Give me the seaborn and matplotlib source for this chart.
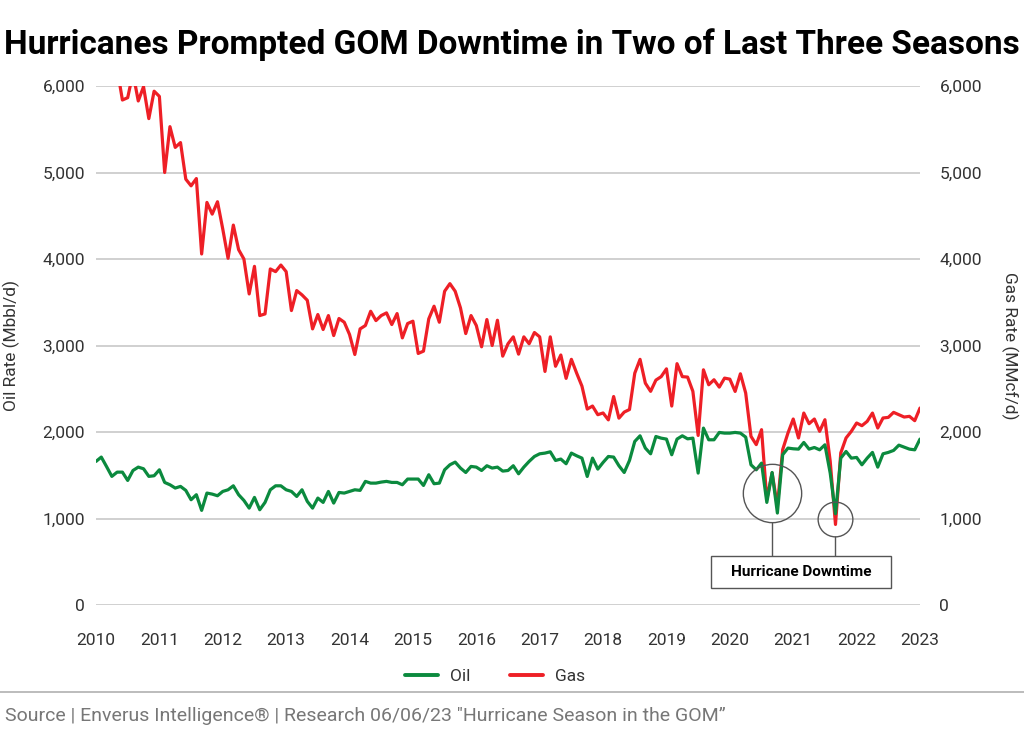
import numpy as np
import pandas as pd
import seaborn as sns
import matplotlib.pyplot as plt
from matplotlib.lines import Line2D
from matplotlib.patches import Rectangle

# monthly rates, Jan 2010 .. Jan 2023
oil = [1660, 1710, 1600, 1487, 1536, 1536, 1440, 1555, 1594, 1575, 1487, 1494,
       1563, 1417, 1390, 1352, 1371, 1325, 1217, 1275, 1094, 1294, 1282, 1263,
       1313, 1332, 1378, 1275, 1209, 1120, 1244, 1101, 1186, 1332, 1378, 1378,
       1332, 1313, 1255, 1332, 1198, 1120, 1236, 1186, 1313, 1178, 1301, 1294,
       1313, 1332, 1325, 1429, 1409, 1409, 1421, 1429, 1417, 1417, 1390, 1456,
       1456, 1456, 1382, 1506, 1402, 1409, 1563, 1621, 1652, 1583, 1532, 1602,
       1594, 1555, 1610, 1583, 1594, 1548, 1555, 1610, 1517,
       1594, 1660, 1717, 1748, 1756, 1771, 1671, 1687, 1633, 1756,
       1725, 1698, 1486, 1698, 1571, 1648, 1717, 1710, 1610, 1532,
       1671, 1891, 1956, 1814, 1748, 1948, 1929, 1918, 1737, 1918,
       1956, 1921, 1929, 1525, 2045, 1910, 1910, 1995, 1987, 1987,
       1995, 1987, 1941, 1621, 1563, 1640, 1186, 1532, 1063, 1737,
       1814, 1806, 1802, 1879, 1802, 1821, 1794, 1852, 1525, 1055,
       1698, 1775, 1698, 1706, 1621, 1698, 1764, 1594, 1748, 1764,
       1787, 1848, 1825, 1802, 1794, 1918]

gas = [6500, 6700, 6400, 6300, 6200,
       5838, 5865, 6150, 5827, 5992, 5623, 5940, 5880,
       5000, 5530, 5290, 5346, 4923, 4846, 4930, 4058, 4654, 4519, 4662, 4346,
       4008, 4392, 4108, 4000, 3596, 3915, 3346, 3365, 3885, 3854, 3930, 3854,
       3404, 3635, 3585,
       3523, 3192, 3358, 3185, 3346, 3115, 3312, 3269, 3127, 2896, 3192, 3231,
       3396, 3288, 3346, 3377, 3242, 3369, 3088, 3254, 3281, 2908, 2935, 3308,
       3454, 3269, 3627, 3715, 3627, 3435, 3138, 3346, 3231, 2985, 3300, 3000,
       3292, 2877,
       3020, 3100, 2900, 3100, 3020, 3150, 3100, 2700, 3100, 2760,
       2890, 2620, 2840, 2680, 2530, 2265, 2300, 2200, 2220, 2140,
       2410, 2160, 2230, 2260, 2680, 2840, 2565, 2470, 2600, 2640,
       2730, 2300, 2790, 2640, 2635, 2470, 1960,
       2719, 2546, 2604, 2519, 2623, 2611, 2469, 2673, 2450, 1950, 1854, 2027,
       1219, 1527, 1142, 1796, 1988, 2150, 1931, 2219, 2096, 2150, 2008, 2142,
       1662, 931, 1758, 1931, 2008, 2104, 2073, 2123, 2219, 2046, 2162, 2169,
       2227, 2200, 2173, 2181, 2131, 2277]

years = list(range(2010, 2024))
y_ticks = [0, 1000, 2000, 3000, 4000, 5000, 6000]
# hurricane dips to circle: (year, rate, circle size)
dips = [(2020.66, 1295, 42), (2021.66, 994, 25)]

df = pd.DataFrame({'date': 2010 + np.arange(len(oil)) / 12, 'Oil': oil, 'Gas': gas})

sns.set_style('white')
plt.rcParams['font.family'] = ['Roboto', 'DejaVu Sans']

green = '#0b8a3e'
red = '#ee1f26'
txt = '#333333'

fig = plt.figure(figsize=(10.24, 7.3), dpi=100)
ax = fig.add_axes([96 / 1024, 1 - 605 / 730, (920 - 96) / 1024, (605 - 86) / 730])

sns.lineplot(data=df, x='date', y='Gas', ax=ax, color=red, lw=2.3, label='Gas', zorder=3)
sns.lineplot(data=df, x='date', y='Oil', ax=ax, color=green, lw=2.3, label='Oil', zorder=4)
ax.get_legend().remove()

ax.set_xlim(2010, 2023)
ax.set_ylim(0, 6000)
ax.set_xticks(years)
ax.set_xticklabels([str(y) for y in years], fontsize=12.5, color=txt)
ax.set_yticks(y_ticks)
ax.set_yticklabels([f'{v:,}' for v in y_ticks], fontsize=12.5, color=txt)
ax.yaxis.grid(True, color='#c8c8c8', lw=1.2)
ax.set_axisbelow(True)
ax.tick_params(length=0, pad=8)
ax.tick_params(axis='x', pad=20)
for s in ax.spines.values():
    s.set_visible(False)
ax.set_xlabel('')
ax.set_ylabel('Oil Rate (Mbbl/d)', fontsize=12.5, color=txt, labelpad=16)

ax2 = ax.twinx()
ax2.set_ylim(0, 6000)
ax2.set_yticks(y_ticks)
ax2.set_yticklabels([f'{v:,}' for v in y_ticks], fontsize=12.5, color=txt)
ax2.tick_params(length=0, pad=14)
for s in ax2.spines.values():
    s.set_visible(False)
ax2.set_ylabel('Gas Rate (MMcf/d)', fontsize=12.5, color=txt, rotation=270, labelpad=26)

# hurricane annotation
for x, y, ms in dips:
    ax.plot([x], [y], marker='o', ms=ms, mfc='none', mec='#555555', mew=1.0, zorder=5)
ax.vlines(dips[0][0], 566, 960, color='#555555', lw=1.0, zorder=5)
ax.vlines(dips[1][0], 566, 798, color='#555555', lw=1.0, zorder=5)
ax.add_patch(Rectangle((2019.70, 196), 2.84, 370, fill=True, fc='white', ec='#555555', lw=1.0, zorder=5))
ax.text(2021.12, 381, 'Hurricane Downtime', ha='center', va='center', fontsize=11,
        fontweight='bold', color='black', zorder=6)

fig.text(0.5, 1 - 45 / 730, 'Hurricanes Prompted GOM Downtime in Two of Last Three Seasons',
         ha='center', va='center', fontsize=24, fontweight='bold', color='black')

handles = [Line2D([], [], color=green, lw=2.8), Line2D([], [], color=red, lw=2.8)]
fig.legend(handles, ['Oil', 'Gas'], loc='center', bbox_to_anchor=(495 / 1024, 1 - 676 / 730),
           ncol=2, frameon=False, fontsize=12.5, handlelength=1.9, handletextpad=0.7,
           columnspacing=2.3)
for t in fig.legends[0].get_texts():
    t.set_color(txt)

fig.add_artist(Line2D([0, 1], [1 - 692 / 730] * 2, color='#b0b0b0', lw=1.2))
fig.text(5 / 1024, 1 - 716 / 730,
         'Source | Enverus Intelligence® | Research 06/06/23 "Hurricane Season in the GOM\u201d',
         ha='left', va='center', fontsize=14, color='#777777')

fig.savefig('out.png', dpi=100)
